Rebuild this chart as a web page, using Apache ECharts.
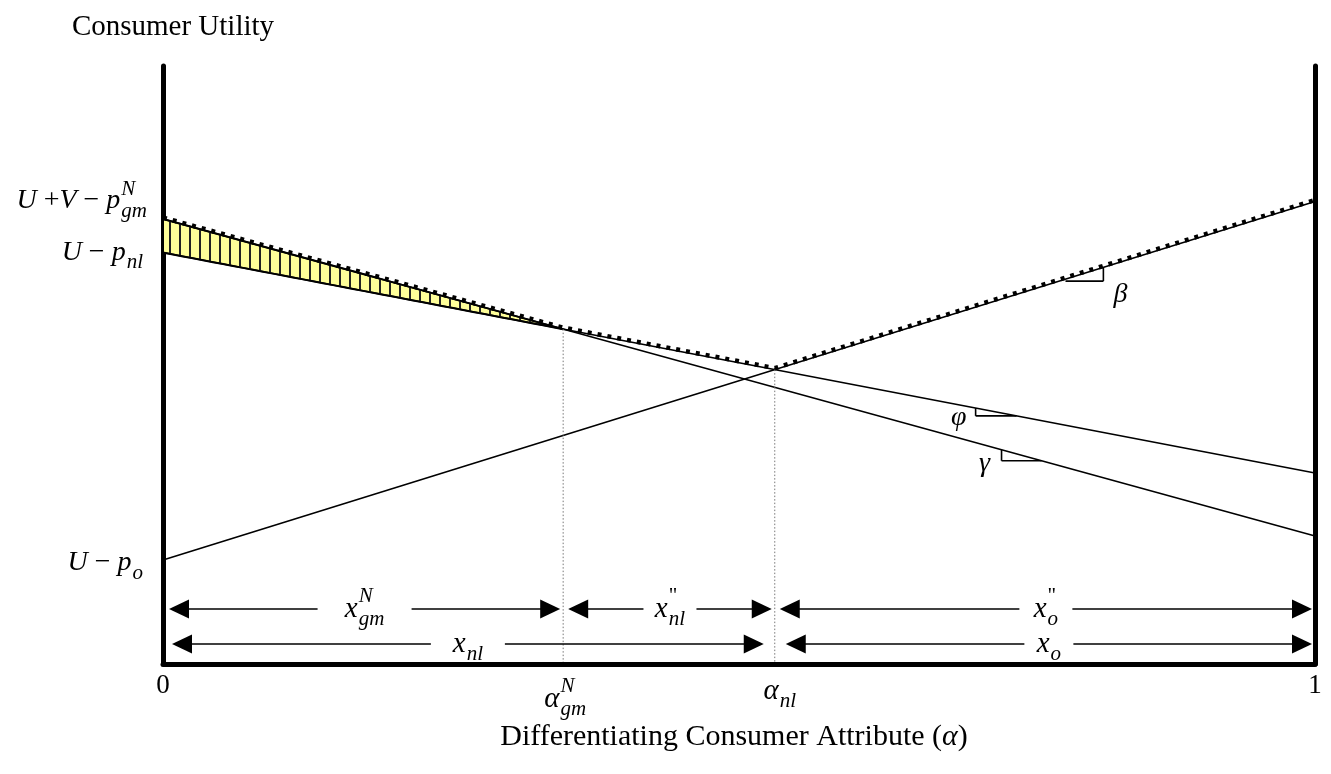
<!DOCTYPE html>
<html><head><meta charset="utf-8">
<script src="https://cdn.jsdelivr.net/npm/echarts@6/dist/echarts.min.js"></script>
<style>html,body{margin:0;padding:0;background:#fff}#c{width:1331px;height:774px}</style>
</head><body><div id="c"></div>
<script>
// ---------------- data ----------------
const xEnds = [0, 1];
const gmLine = [74.41, 21.40];   // U+V-p_gm^N line (slope gamma)
const nlLine = [68.80, 31.94];   // U-p_nl line (slope phi)
const oLine  = [17.39, 77.34];   // U-p_o line (slope beta)
const xTickLabels = ['0', '1'];
const yRange = [0, 100];

// dimension arrows
const dimStart = ['zero', 'aGm', 'aNl', 'zero', 'aNl'];
const dimEnd   = ['aGm', 'aNl', 'one', 'aNl', 'one'];
const dimRow   = [0, 0, 0, 1, 1];
const dimText  = [
  [{t: 'x', sub: 'gm', sup: 'N'}],
  [{t: 'x', sub: 'nl', sup: '"', supUp: true}],
  [{t: 'x', sub: 'o', sup: '"', supUp: true}],
  [{t: 'x', sub: 'nl'}],
  [{t: 'x', sub: 'o'}]
];
const rowLevel = [9.20, 3.34];

// slope triangles
const slopeLine = ['o', 'nl', 'gm'];
const slopeX1 = [0.7834, 0.7054, 0.7279];
const slopeX2 = [0.8163, 0.7409, 0.7626];
const slopeText = ['β', 'φ', 'γ'];

// y-axis intercept labels
const yLabLine = ['gm', 'nl', 'o'];
const yLabText = [
  [{t: 'U'}, {t: ' +', up: true}, {t: 'V'}, {t: ' − ', up: true}, {t: 'p', sub: 'gm', sup: 'N'}],
  [{t: 'U'}, {t: ' − ', up: true}, {t: 'p', sub: 'nl'}],
  [{t: 'U'}, {t: ' − ', up: true}, {t: 'p', sub: 'o'}]
];
const alphaText = {
  aGm: [{t: 'α', sub: 'gm', sup: 'N'}],
  aNl: [{t: 'α', sub: 'nl'}]
};

// ---------------- helpers ----------------
const LINES = {gm: gmLine, nl: nlLine, o: oLine};
function lineAt(L, x) { return L[0] + (L[1] - L[0]) * x; }
function cross(A, B) { return (B[0] - A[0]) / ((A[1] - A[0]) - (B[1] - B[0])); }
const aGm = cross(gmLine, nlLine);
const aNl = cross(nlLine, oLine);
const POS = {zero: 0, aGm: aGm, aNl: aNl, one: 1};

const FONT = '"Liberation Serif", "Times New Roman", serif';
const mctx = document.createElement('canvas').getContext('2d');
function fontStr(it, size) { return (it ? 'italic ' : '') + size + 'px ' + FONT; }
function measure(t, it, size) { mctx.font = fontStr(it, size); return mctx.measureText(t).width; }
function txt(t, x, y, font, align) {
  return {type: 'text', style: {text: t, x: x, y: y, font: font, fill: '#000',
    align: align || 'left', verticalAlign: 'middle', textAlign: align || 'left', textVerticalAlign: 'middle'}};
}
function mathEls(tokens, x, y, align, size, subRatio) {
  const ss = Math.round(size * (subRatio || 0.72));
  const parts = tokens.map(tk => {
    const it = !tk.up;
    const wb = measure(tk.t, it, size);
    const wsub = tk.sub ? measure(tk.sub, true, ss) : 0;
    const wsup = tk.sup ? measure(tk.sup, !tk.supUp, ss) : 0;
    return {tk, it, wb, w: wb + Math.max(wsub, wsup) + ((tk.sub || tk.sup) ? 1 : 0)};
  });
  const total = parts.reduce((s, p) => s + p.w, 0);
  let cx = align === 'right' ? x - total : align === 'center' ? x - total / 2 : x;
  const els = [];
  parts.forEach(p => {
    els.push(txt(p.tk.t, cx, y, fontStr(p.it, size)));
    if (p.tk.sub) els.push(txt(p.tk.sub, cx + p.wb + 1, y + size * 0.36, fontStr(true, ss)));
    if (p.tk.sup) els.push(txt(p.tk.sup, cx + p.wb + 1, y - size * 0.42, fontStr(!p.tk.supUp, ss)));
    cx += p.w;
  });
  return els;
}
const BLACK = '#000';
function seg(x1, y1, x2, y2, w, dash, color) {
  return {type: 'line', shape: {x1, y1, x2, y2},
    style: {stroke: color || BLACK, lineWidth: w || 1.6, lineDash: dash || null}};
}
function tri(pts) { return {type: 'polygon', shape: {points: pts}, style: {fill: BLACK}}; }

// ---------------- fill (hatched yellow region) ----------------
function renderFill(params, api) {
  const N = 40;
  const top = [], bot = [];
  for (let i = 0; i <= N; i++) {
    const x = aGm * i / N;
    top.push(api.coord([x, lineAt(gmLine, x)]));
    bot.push(api.coord([x, lineAt(nlLine, x)]));
  }
  const poly = top.concat(bot.slice().reverse());
  const children = [{type: 'polygon', shape: {points: poly},
    style: {fill: '#FFFF99', stroke: BLACK, lineWidth: 2}}];
  const p0 = api.coord([0, 0])[0], p1 = api.coord([aGm, 0])[0];
  const gA = api.coord([0, gmLine[0]]), gB = api.coord([1, gmLine[1]]);
  const nA = api.coord([0, nlLine[0]]), nB = api.coord([1, nlLine[1]]);
  const yAt = (A, B, px) => A[1] + (B[1] - A[1]) * (px - A[0]) / (B[0] - A[0]);
  for (let px = p0 + 7; px < p1 - 4; px += 10) {
    children.push(seg(px, yAt(gA, gB, px), px, yAt(nA, nB, px), 2, null, '#222'));
  }
  return {type: 'group', children};
}

// ---------------- upper envelope (thick dotted) ----------------
function renderEnvelope(params, api) {
  const pts = [
    [0, gmLine[0]],
    [aGm, lineAt(gmLine, aGm)],
    [aNl, lineAt(nlLine, aNl)],
    [1, oLine[1]]
  ].map(p => { const c = api.coord(p); return [c[0], c[1] - 1.5]; });
  return {type: 'polyline', shape: {points: pts},
    style: {stroke: BLACK, lineWidth: 4.5, lineDash: [4, 6], fill: null}};
}

// ---------------- annotations ----------------
function renderAnno(params, api) {
  const ch = [];
  const axisX = api.coord([0, 0])[0];
  const axisY = api.coord([0, 0])[1];
  // dotted verticals
  [aGm, aNl].forEach(a => {
    const top = api.coord([a, lineAt(nlLine, a)]);
    ch.push(seg(top[0], top[1], top[0], axisY - 2, 1, [1.5, 2], '#777'));
  });
  // alpha labels below axis
  const aGmX = api.coord([aGm, 0])[0], aNlX = api.coord([aNl, 0])[0];
  ch.push.apply(ch, mathEls(alphaText.aGm, aGmX + 2, axisY + 35, 'center', 29));
  ch.push.apply(ch, mathEls(alphaText.aNl, aNlX + 5, axisY + 27, 'center', 29));
  // y-axis intercept labels
  const yOff = [-18, 0, 3];
  const xOff = [-16, -20, -20];
  yLabLine.forEach((k, i) => {
    const p = api.coord([0, LINES[k][0]]);
    ch.push.apply(ch, mathEls(yLabText[i], axisX + xOff[i], p[1] + yOff[i], 'right', 28, 0.74));
  });
  // slope triangles
  const lblOff = [[17, 13], [-17, 2], [-17, 3]];
  slopeLine.forEach((k, i) => {
    const L = LINES[k];
    const A = api.coord([slopeX1[i], lineAt(L, slopeX1[i])]);
    const B = api.coord([slopeX2[i], lineAt(L, slopeX2[i])]);
    let hy, vx, vy, lx;
    if (A[1] > B[1]) { hy = A[1] + 2; vx = B[0]; vy = B[1]; lx = B[0]; }
    else { hy = B[1]; vx = A[0]; vy = A[1]; lx = A[0]; }
    ch.push(seg(A[0], hy, B[0], hy, 1.6));
    ch.push(seg(vx, hy, vx, vy, 1.6));
    ch.push(txt(slopeText[i], lx + lblOff[i][0], hy + lblOff[i][1], fontStr(true, 28), 'center'));
  });
  // dimension arrows
  const gaps = [94, 53, 53, 74, 49];
  const AL = 20, AH = 9.5;
  dimStart.forEach((s, i) => {
    const row = dimRow[i];
    const y = api.coord([0, rowLevel[row]])[1];
    const insA = s === 'zero' ? (row ? 9 : 6) : (row ? 11 : 5);
    const insB = dimEnd[i] === 'one' ? 3 : (row ? 11 : 3);
    const a = api.coord([POS[s], 0])[0] + insA;
    const b = api.coord([POS[dimEnd[i]], 0])[0] - insB;
    const mid = (a + b) / 2;
    ch.push(seg(a + AL - 1, y, mid - gaps[i] / 2, y, 1.6));
    ch.push(seg(mid + gaps[i] / 2, y, b - AL + 1, y, 1.6));
    ch.push(tri([[a, y], [a + AL, y - AH], [a + AL, y + AH]]));
    ch.push(tri([[b, y], [b - AL, y - AH], [b - AL, y + AH]]));
    ch.push.apply(ch, mathEls(dimText[i], mid, y, 'center', 29));
  });
  return {type: 'group', children: ch};
}

// ---------------- chart ----------------
const chart = echarts.init(document.getElementById('c'), null, {renderer: 'canvas'});
const mkLine = (name, L) => ({
  name, type: 'line', data: xEnds.map((x, i) => [x, L[i]]), symbol: 'none',
  lineStyle: {color: BLACK, width: 1.6}, z: 3, silent: true
});
chart.setOption({
  animation: false,
  backgroundColor: '#fff',
  textStyle: {fontFamily: FONT},
  grid: {left: 163, right: 16, top: 66, bottom: 110},
  xAxis: {
    type: 'value', min: 0, max: 1, interval: 1,
    axisLine: {show: true, onZero: false, lineStyle: {color: BLACK, width: 5}},
    axisTick: {show: false}, splitLine: {show: false},
    axisLabel: {color: BLACK, fontSize: 27, fontFamily: FONT, margin: 8,
      formatter: v => xTickLabels[xEnds.indexOf(v)]},
    name: '{n|Differentiating Consumer Attribute (}{a|α}{n|)}',
    nameLocation: 'middle', nameGap: 58,
    nameTextStyle: {padding: [0, 10, 0, 0], rich: {
      n: {fontSize: 30, fontFamily: FONT, color: BLACK},
      a: {fontSize: 30, fontFamily: FONT, fontStyle: 'italic', color: BLACK}
    }}
  },
  yAxis: [{
    type: 'value', min: yRange[0], max: yRange[1], position: 'left',
    axisLine: {show: true, onZero: false, lineStyle: {color: BLACK, width: 5}},
    axisTick: {show: false}, splitLine: {show: false}, axisLabel: {show: false},
    name: 'Consumer Utility', nameLocation: 'end', nameGap: 24,
    nameTextStyle: {fontSize: 29, fontFamily: FONT, color: BLACK, padding: [0, 0, 0, 20]}
  }, {
    type: 'value', min: yRange[0], max: yRange[1], position: 'right',
    axisLine: {show: true, onZero: false, lineStyle: {color: BLACK, width: 5}},
    axisTick: {show: false}, splitLine: {show: false}, axisLabel: {show: false}
  }],
  series: [
    {type: 'custom', name: 'advantage', renderItem: renderFill, data: [[0, 0]], clip: false, z: 1, silent: true},
    mkLine('gm', gmLine),
    mkLine('nl', nlLine),
    mkLine('o', oLine),
    {type: 'custom', name: 'envelope', renderItem: renderEnvelope, data: [[0, 0]], clip: false, z: 4, silent: true},
    {type: 'custom', name: 'annotations', renderItem: renderAnno, data: [[0, 0]], clip: false, z: 5, silent: true}
  ]
});
</script></body></html>
